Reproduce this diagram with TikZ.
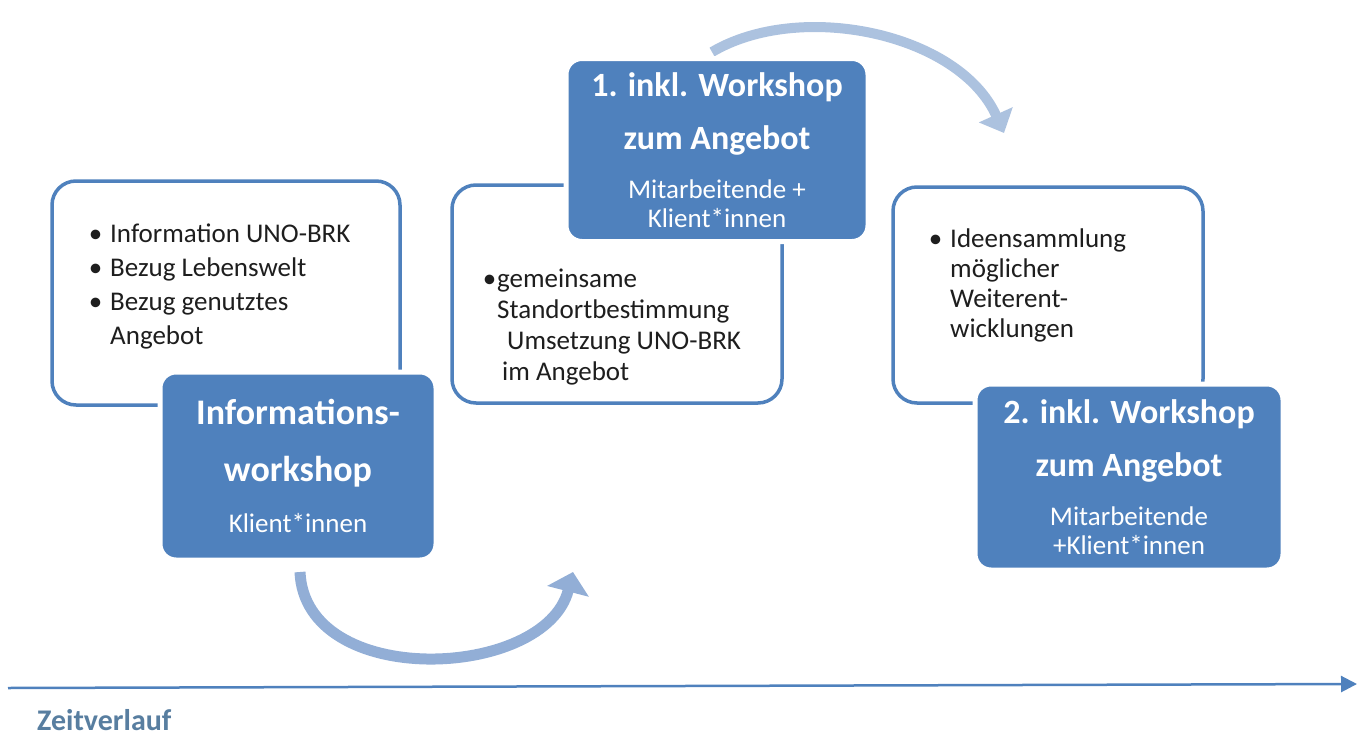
\documentclass[tikz,border=0pt]{standalone}
\usepackage{fontspec}
\setmainfont{Carlito}
\usetikzlibrary{arrows.meta}
\definecolor{boxblue}{RGB}{79,129,189}
\definecolor{arrowlight}{RGB}{146,174,214}
\definecolor{arrowpale}{RGB}{172,194,223}
\definecolor{timetext}{RGB}{88,126,160}
\definecolor{bodytext}{RGB}{30,30,30}
\tikzset{
  whitebox/.style={draw=boxblue, line width=3.5pt, fill=white, rounded corners=24pt, inner sep=0pt},
  bluebox/.style={draw=white, line width=5pt, fill=boxblue, rounded corners=16pt, text=white,
    align=center, inner sep=0pt, font=\fontsize{27}{29}\selectfont},
  boxtext/.style={anchor=north west, align=left, inner sep=0pt, text=bodytext},
  bigarrow/.style={line width=11pt, -{Triangle[length=20pt,width=42pt]}},
}
\newcommand{\itembullet}{\llap{•\hspace{8pt}}}
\newcommand{\tightbullet}{\llap{•\hspace{1pt}}}
\begin{document}
\begin{tikzpicture}[x=1pt,y=-1pt]
\useasboundingbox (0,0) rectangle (1360,736);
% white boxes
\node[whitebox, minimum width=348pt, minimum height=224pt] (infoA) at (226,293) {};
\node[whitebox, minimum width=330pt, minimum height=218pt] (infoB) at (617,294) {};
\node[whitebox, minimum width=310pt, minimum height=216pt] (infoC) at (1048,295) {};
\node[boxtext, font=\fontsize{27}{34}\selectfont] (textA) at (110,224)
  {\itembullet Information UNO-BRK\\ \itembullet Bezug Lebenswelt\\ \itembullet Bezug genutztes\\ Angebot};
\node[boxtext, font=\fontsize{27}{31}\selectfont] (textB) at (497,269)
  {\tightbullet gemeinsame\\ Standortbestimmung\\ \hspace*{10pt}Umsetzung UNO-BRK\\ \hspace*{5pt}im Angebot};
\node[boxtext, font=\fontsize{27}{30}\selectfont] (textC) at (950,229)
  {\itembullet Ideensammlung\\ möglicher\\ Weiterent-\\ wicklungen};
% curved arrows
\coordinate (arrAstart) at (300,572);
\coordinate (arrAend) at (573,572);
\coordinate (arrBstart) at (712,52);
\coordinate (arrBend) at (1004,133);
\draw[bigarrow, arrowlight] (arrAstart) .. controls +(5,118) and +(-28,108) .. (arrAend);
\draw[bigarrow, arrowpale, line width=10pt, -{Triangle[length=20pt,width=36pt]}]
  (arrBstart) .. controls +(88,-52) and +(-45,-100) .. (arrBend);
% blue boxes
\node[bluebox, minimum width=276pt, minimum height=188pt] (stepA) at (298,466)
  {{\fontsize{36}{29}\selectfont\bfseries Informations-}\\[28pt]
   {\fontsize{36}{29}\selectfont\bfseries workshop}\\[22pt] Klient*innen};
\node[bluebox, minimum width=302pt, minimum height=183pt] (stepB) at (717,150)
  {{\fontsize{34}{29}\selectfont\bfseries 1. inkl. Workshop}\\[23pt]
   {\fontsize{34}{29}\selectfont\bfseries zum Angebot}\\[20pt] Mitarbeitende +\\ Klient*innen};
\node[bluebox, minimum width=308pt, minimum height=186pt] (stepC) at (1129,477)
  {{\fontsize{34}{29}\selectfont\bfseries 2. inkl. Workshop}\\[23pt]
   {\fontsize{34}{29}\selectfont\bfseries zum Angebot}\\[20pt] Mitarbeitende\\ +Klient*innen};
% time axis
\coordinate (timeL) at (8,688);
\coordinate (timeR) at (1357,684);
\draw[boxblue, line width=2.5pt, -{Triangle[length=16pt,width=16pt]}] (timeL) -- (timeR);
\node[anchor=base west, inner sep=0pt, text=timetext, font=\fontsize{30}{34}\selectfont\bfseries] (timelabel) at (37,730) {Zeitverlauf};
\end{tikzpicture}
\end{document}
